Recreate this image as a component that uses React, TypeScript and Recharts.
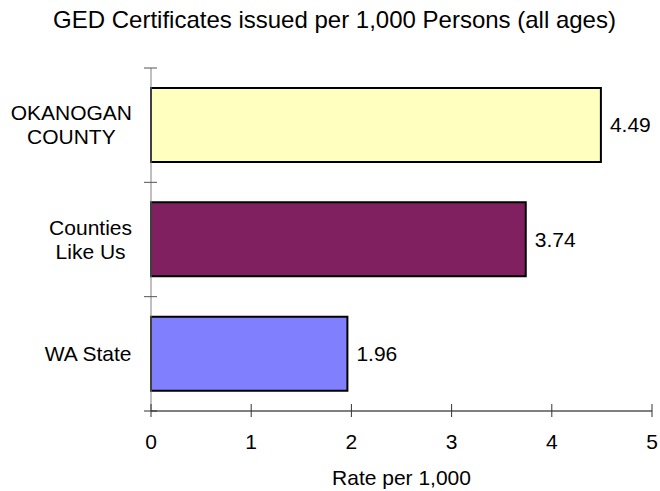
import React from 'react';
import { BarChart, Bar, XAxis, YAxis, Cell, LabelList, Label } from 'recharts';

const CATEGORIES = ['OKANOGAN COUNTY', 'Counties Like Us', 'WA State'];
const CATEGORY_LINES = [['OKANOGAN', 'COUNTY'], ['Counties', 'Like Us'], ['WA State']];
const VALUES = [4.49, 3.74, 1.96];
const COLORS = ['#FFFFC0', '#802060', '#8080FF'];
const X_TICKS = [0, 1, 2, 3, 4, 5];
const TITLE = 'GED Certificates issued per 1,000 Persons (all ages)';
const X_LABEL = 'Rate per 1,000';

const data = CATEGORIES.map((name, i) => ({ name, value: VALUES[i] }));
const LINES_BY_NAME: Record<string, string[]> = {};
CATEGORIES.forEach((c, i) => (LINES_BY_NAME[c] = CATEGORY_LINES[i]));

const W = 660;
const H = 491;
const MARGIN = { top: 68, right: 8, left: 0, bottom: 0 };
const X_AXIS_H = 80;
const Y_AXIS_W = 151;
const BAND = (H - MARGIN.top - MARGIN.bottom - X_AXIS_H) / CATEGORIES.length;
const FONT = '"Liberation Sans", Arial, Helvetica, sans-serif';
const FS = 21;

let ctx: CanvasRenderingContext2D | null = null;
const measure = (s: string) => {
  if (!ctx) ctx = document.createElement('canvas').getContext('2d');
  if (!ctx) return s.length * FS * 0.55;
  ctx.font = `${FS}px "Liberation Sans"`;
  return ctx.measureText(s).width;
};

const YTick = (props: any) => {
  const { x, y, payload, index, visibleTicksCount } = props;
  const lines = LINES_BY_NAME[payload.value] || [String(payload.value)];
  const maxW = Math.max(...lines.map(measure));
  const cx = x - 19 - maxW / 2;
  const lh = 24;
  const first = y - ((lines.length - 1) * lh) / 2 + 7;
  const half = BAND / 2;
  return (
    <g>
      {lines.map((l, i) => (
        <text key={i} x={cx} y={first + i * lh} textAnchor="middle" fontSize={FS} fontFamily={FONT} fill="#000">
          {l}
        </text>
      ))}
      <line x1={x - 7} x2={x + 6} y1={y - half} y2={y - half} stroke="#555" />
      {index === visibleTicksCount - 1 && (
        <line x1={x - 7} x2={x + 6} y1={y + half} y2={y + half} stroke="#333" />
      )}
    </g>
  );
};

const XTick = (props: any) => {
  const { x, y, payload } = props;
  return (
    <g>
      <line x1={x} x2={x} y1={y - 7} y2={y + 6} stroke="#333" />
      <text x={x} y={y + 38} textAnchor="middle" fontSize={FS} fontFamily={FONT} fill="#000">
        {payload.value}
      </text>
    </g>
  );
};

const XLabelContent = (props: any) => {
  const vb = props.viewBox || {};
  return (
    <text x={vb.x + vb.width / 2} y={vb.y + 74} textAnchor="middle" fontSize={FS} fontFamily={FONT} fill="#000">
      {X_LABEL}
    </text>
  );
};

export default function App() {
  return (
    <div style={{ position: 'absolute', left: 0, top: 0, width: W, height: H, background: '#fff' }}>
      <BarChart width={W} height={H} data={data} layout="vertical" margin={MARGIN} barCategoryGap="17.5%">
        <XAxis
          type="number"
          domain={[0, 5]}
          ticks={X_TICKS}
          interval={0}
          height={X_AXIS_H}
          axisLine={{ stroke: '#000', strokeWidth: 1 }}
          tickLine={false}
          tickSize={0}
          tickMargin={0}
          tick={<XTick />}
        >
          <Label content={<XLabelContent />} />
        </XAxis>
        <YAxis
          type="category"
          dataKey="name"
          width={Y_AXIS_W}
          axisLine={{ stroke: '#808080', strokeWidth: 1 }}
          tickLine={false}
          tickSize={0}
          tickMargin={0}
          interval={0}
          tick={<YTick />}
        />
        <Bar dataKey="value" stroke="#000" strokeWidth={2} isAnimationActive={false}>
          {data.map((d, i) => (
            <Cell key={d.name} fill={COLORS[i]} />
          ))}
          <LabelList
            dataKey="value"
            position="right"
            offset={9}
            fontSize={FS}
            fontFamily={FONT}
            fill="#000"
            formatter={(v: any) => Number(v).toFixed(2)}
          />
        </Bar>
      </BarChart>
      <svg width={W} height={H} style={{ position: 'absolute', left: 0, top: 0, pointerEvents: 'none' }}>
        <text x={334.5} y={28} textAnchor="middle" fontSize={24} fontFamily={FONT} fill="#000">
          {TITLE}
        </text>
      </svg>
    </div>
  );
}
